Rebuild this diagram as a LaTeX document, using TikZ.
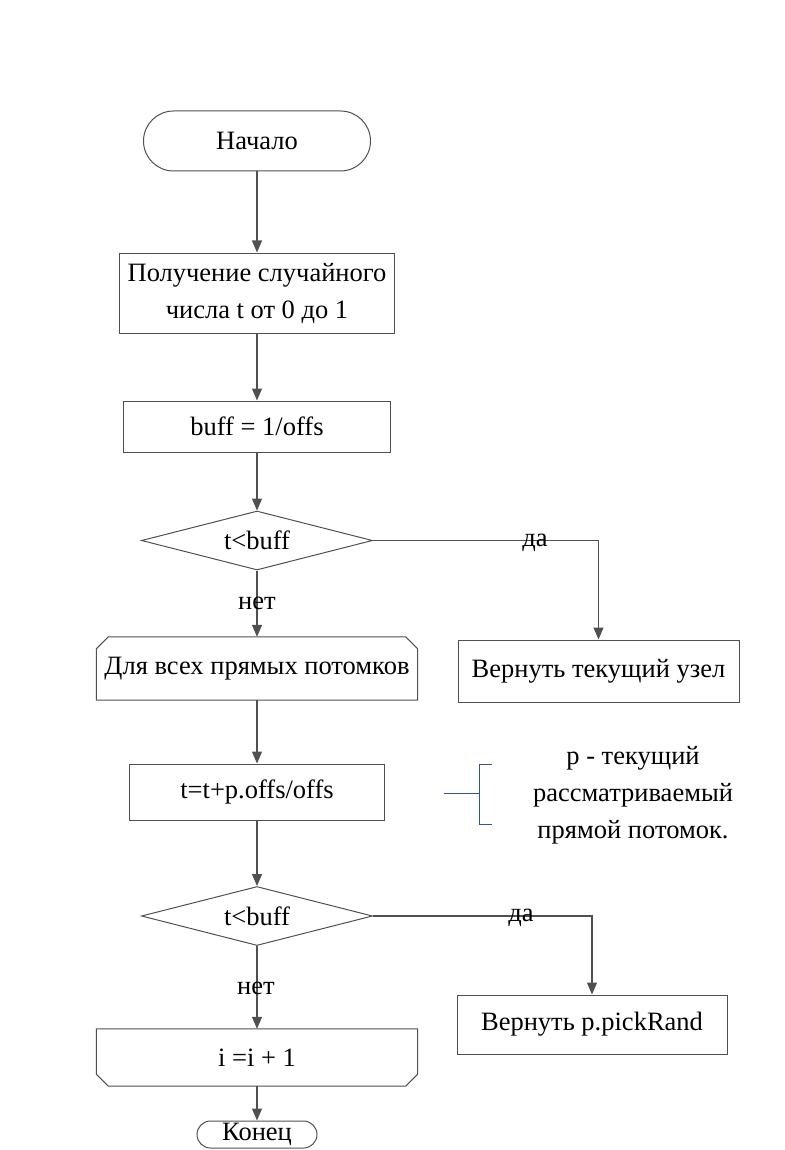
\documentclass[tikz,border=0pt]{standalone}
\usepackage{fontspec}
\setmainfont{Liberation Serif}
\usetikzlibrary{shapes.geometric,arrows.meta}
\definecolor{linegray}{HTML}{505050}
\definecolor{annblue}{HTML}{2F5597}
\begin{document}
\begin{tikzpicture}[x=1pt,y=-1pt,
  txt/.style={font=\fontsize{26.5}{37}\selectfont, text=black, align=center, inner sep=0pt},
  boxstyle/.style={txt, draw=linegray, line width=1pt, rectangle},
  termstyle/.style={txt, draw=linegray, line width=1pt, rectangle, rounded corners=#1},
  decstyle/.style={txt, draw=linegray, line width=1pt, diamond, aspect=3.9},
  loopstyle/.style={txt},
  outline/.style={draw=linegray, line width=1pt},
  arr/.style={draw=linegray, line width=1.2pt, -{Triangle[length=12pt,width=10pt]}},
  lbl/.style={txt},
  bracket/.style={draw=annblue, line width=1pt}
]
\useasboundingbox (0,0) rectangle (784,1150);

\node[termstyle=30pt, minimum width=227pt, minimum height=60pt] (start) at (257,141) {Начало};
\node[boxstyle, minimum width=275pt, minimum height=80pt] (rnd) at (257,293) {Получение случайного\\числа t от 0 до 1};
\node[boxstyle, minimum width=267pt, minimum height=51pt] (buff) at (257,426.5) {buff = 1/offs};
\node[decstyle, minimum width=231pt, minimum height=59pt] (d1) at (257,540.5) {t<buff};
\node[loopstyle, minimum width=321pt, minimum height=63pt] (loopa) at (257,668.5) {Для всех прямых потомков};
\draw[outline]
  ([yshift=-12pt]loopa.north west) -- ([xshift=12pt]loopa.north west) -- ([xshift=-12pt]loopa.north east)
  -- ([yshift=-12pt]loopa.north east) -- (loopa.south east) -- (loopa.south west) -- cycle;
\node[boxstyle, minimum width=281pt, minimum height=62pt] (ret1) at (598.5,671) {Вернуть текущий узел};
\node[boxstyle, minimum width=255pt, minimum height=56pt] (upd) at (257,792) {t=t+p.offs/offs};
\node[decstyle, minimum width=231pt, minimum height=59pt] (d2) at (257,916) {t<buff};
\node[boxstyle, minimum width=270pt, minimum height=59pt] (ret2) at (592,1024.5) {Вернуть p.pickRand};
\node[loopstyle, minimum width=321pt, minimum height=57pt] (loopb) at (257,1057.5) {i =i + 1};
\draw[outline]
  (loopb.north west) -- (loopb.north east) -- ([yshift=12pt]loopb.south east)
  -- ([xshift=-12pt]loopb.south east) -- ([xshift=12pt]loopb.south west) -- ([yshift=12pt]loopb.south west) -- cycle;
\node[termstyle=13.5pt, minimum width=120pt, minimum height=27pt] (stop) at (257,1134.5) {Конец};

\node[lbl] (note) at (633,795) {p - текущий\\рассматриваемый\\прямой потомок.};
\coordinate (bl) at (444,793);
\coordinate (bm) at (479,793);
\coordinate (bt) at (492,764);
\coordinate (bb) at (492,824);
\draw[bracket] (bl) -- (bm);
\draw[bracket] (bt) -- (bt -| bm) -- (bb -| bm) -- (bb);

\draw[arr] (start.south) -- (rnd.north);
\draw[arr] (rnd.south) -- (buff.north);
\draw[arr] (buff.south) -- (d1.north);
\draw[arr] (d1.south) -- (loopa.north);
\draw[arr] (d1.east) -| (ret1.north);
\draw[arr] (loopa.south) -- (upd.north);
\draw[arr] (upd.south) -- (d2.north);
\draw[arr] (d2.south) -- (loopb.north);
\draw[arr] (d2.east) -| (ret2.north);
\draw[arr] (loopb.south) -- (stop.north);

\node[lbl] (no1) at (257,603) {нет};
\node[lbl] (yes1) at (535,543) {да};
\node[lbl] (no2) at (256,988) {нет};
\node[lbl] (yes2) at (521,918) {да};
\end{tikzpicture}
\end{document}
